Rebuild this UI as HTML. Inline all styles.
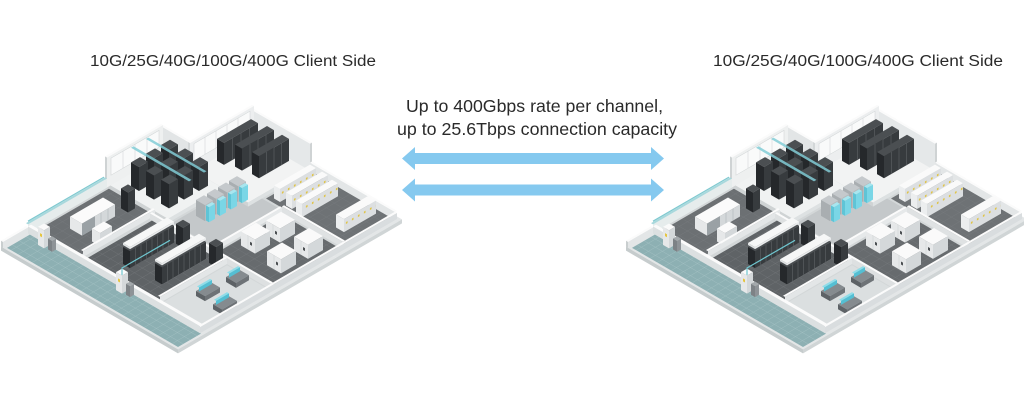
<!DOCTYPE html>
<html><head><meta charset="utf-8"><style>
html,body{margin:0;padding:0;background:#fff;}
svg{display:block;}
.wt{fill:#fbfbfb}.wl{fill:#e6e8e9}.wr{fill:#d4d8da}
.kt{fill:#4b4f52}.kl{fill:#25282b}.kr{fill:#373b3e}
.bt{fill:#fafafa}.bl{fill:#eceeef}.br{fill:#dcdfe1}
.ct{fill:#c5c9cc}.cl{fill:#a9aeb1}.cr{fill:#b7bcbf}
.yt{fill:#a8e6ef}.yl{fill:#5fc4d6}.yr{fill:#7ad6e6}
.dt{fill:#858b8f}.dl{fill:#5d6266}.dr{fill:#6e7377}
.mt{fill:#8fdde9}.mr{fill:#54bfd3}
.ln{stroke:#5a5e61;stroke-width:.7;fill:none}
.wn{fill:#f9fafa;stroke:#d2d6d7;stroke-width:.6}
.wln{stroke:#d2d6d7;stroke-width:.6;fill:none}
text{font-family:"Liberation Sans",sans-serif;fill:#2a2a2a;}
</style></head><body>
<svg xmlns="http://www.w3.org/2000/svg" width="1024" height="405" viewBox="0 0 1024 405">
<defs>
<pattern id="tg" width="7" height="7" patternUnits="userSpaceOnUse"><path d="M0 0H7M0 0V7" stroke="#a9c5c7" stroke-width="0.6" fill="none"/></pattern>
<pattern id="dg" width="8" height="8" patternUnits="userSpaceOnUse"><path d="M0 0H8M0 0V8" stroke="#7c8083" stroke-width="0.5" fill="none"/></pattern>
<pattern id="yd" width="6" height="13" patternUnits="userSpaceOnUse"><rect x="2" y="7" width="1.5" height="2" fill="#e0c13a"/></pattern>
<g id="dc" transform="translate(30,231)">
<!-- floors -->
<g transform="matrix(1,.58,1,-.58,0,0)">
<rect x="-1" y="-28" width="177" height="158" fill="#e3e6e7"/>
<rect x="26" y="130" width="150" height="66" fill="#e3e6e7"/>
<rect x="3" y="-26" width="171" height="23" fill="#8db0b3"/>
<rect x="3" y="-26" width="171" height="23" fill="url(#tg)"/>
<rect x="1" y="-3" width="172" height="133" fill="#d3d7d8"/>
<rect x="28" y="130" width="145" height="64" fill="#d3d7d8"/>
<rect x="3" y="4" width="43" height="72" fill="#6c7073"/>
<rect x="3" y="4" width="43" height="72" fill="url(#dg)"/>
<rect x="52" y="4" width="72" height="66" fill="#5f6366"/>
<rect x="52" y="4" width="72" height="66" fill="url(#dg)"/>
<rect x="128" y="3" width="43" height="66" fill="#dbdfe0"/>
<rect x="112" y="76" width="59" height="64" fill="#676b6e"/>
<rect x="112" y="76" width="59" height="64" fill="url(#dg)"/>
<rect x="90" y="146" width="81" height="46" fill="#6e7275"/>
<rect x="90" y="146" width="81" height="46" fill="url(#dg)"/>
<rect x="64" y="78" width="46" height="66" fill="#c4c8ca"/>
</g>
<!-- slab edges -->
<rect transform="matrix(1,.58,0,-1,-28,16.24)" x="-1" y="-4" width="177" height="4" fill="#c6cccd"/>
<rect transform="matrix(1,-.58,0,-1,176,102.08)" x="-28" y="-4" width="224" height="4" fill="#d0d5d6"/>
<!-- raised floors -->
<rect transform="matrix(1,.58,1,-.58,0,-4)" x="30" y="130" width="58" height="64" fill="#f2f3f3"/>
<rect transform="matrix(1,.58,0,-1,130,-75.4)" x="30" y="0" width="58" height="4" fill="#cfd3d4"/>
<rect transform="matrix(1,-.58,0,-1,88,51.04)" x="130" y="0" width="64" height="4" fill="#dde1e2"/>
<rect transform="matrix(1,.58,1,-.58,0,-4)" x="1" y="76" width="61" height="54" fill="#f0f2f2"/>
<rect transform="matrix(1,.58,0,-1,76,-44.08)" x="1" y="0" width="61" height="4" fill="#cfd3d4"/>
<rect transform="matrix(1,-.58,0,-1,62,35.96)" x="76" y="0" width="54" height="4" fill="#dde1e2"/>
<!-- back room right wall -->
<rect transform="matrix(1,.58,0,-1,192,-111.36)" x="28" y="0" width="60" height="27" fill="#e5e8e9"/>
<rect transform="matrix(1,-.58,0,-1,88,51.04)" x="192" y="0" width="2" height="27" fill="#cfd3d4"/>
<rect class="wt" transform="matrix(1,.58,1,-.58,0,-27)" x="28" y="192" width="60" height="2"/>
<!-- battery back wall -->
<rect transform="matrix(1,.58,0,-1,192,-111.36)" x="88" y="0" width="85" height="8" fill="#e3e6e7"/>
<rect class="wt" transform="matrix(1,.58,1,-.58,0,-8)" x="88" y="192" width="85" height="2"/>
<!-- back room left wall -->
<rect transform="matrix(1,.58,0,-1,130,-75.4)" x="28" y="0" width="2" height="30" fill="#d3d7d8"/>
<g transform="matrix(1,-.58,0,-1,30,17.4)">
<rect x="130" y="0" width="64" height="30" fill="#eceeef"/>
<rect class="wn" x="134" y="10" width="56" height="17"/>
<path class="wln" d="M145 10V27M156 10V27M167 10V27M178 10V27"/>
</g>
<rect class="wt" transform="matrix(1,.58,1,-.58,0,-30)" x="28" y="130" width="2" height="64"/>
<!-- left room right wall -->
<rect transform="matrix(1,.58,0,-1,130,-75.4)" x="1" y="0" width="27" height="30" fill="#e2e5e6"/>
<rect class="wt" transform="matrix(1,.58,1,-.58,0,-30)" x="1" y="130" width="27" height="2"/>
<!-- left room back wall -->
<g transform="matrix(1,-.58,0,-1,1,.58)">
<rect x="76" y="0" width="56" height="30" fill="#eef0f0"/>
<rect class="wn" x="80" y="10" width="48" height="17"/>
<path class="wln" d="M92 10V27M104 10V27M116 10V27"/>
</g>
<rect transform="matrix(1,.58,0,-1,76,-44.08)" x="-1" y="0" width="2" height="30" fill="#cfd3d4"/>
<rect class="wt" transform="matrix(1,.58,1,-.58,0,-30)" x="-1" y="76" width="2" height="56"/>
<!-- cooling back wall -->
<rect transform="matrix(1,-.58,0,-1,1,.58)" x="-3" y="0" width="79" height="9" fill="#e6ecec"/>
<rect transform="matrix(1,.58,1,-.58,0,-9)" x="-1" y="-3" width="2" height="79" fill="#a8d8dc"/>
<!-- end wall -->
<rect transform="matrix(1,-.58,0,-1,1,.58)" x="-28" y="0" width="25" height="6" fill="#e3e6e7"/>
<rect transform="matrix(1,.58,0,-1,-28,16.24)" x="-1" y="0" width="2" height="6" fill="#c9cecf"/>
<rect class="wt" transform="matrix(1,.58,1,-.58,0,-6)" x="-1" y="-28" width="2" height="25"/>
<!-- back room racks -->
<rect class="kt" transform="matrix(1,.58,1,-.58,0,-22)" x="33" y="154" width="7" height="34"/>
<rect class="kl" transform="matrix(1,.58,0,-1,154,-89.32)" x="33" y="0" width="7" height="22"/>
<g transform="matrix(1,-.58,0,-1,40,23.2)"><rect class="kr" x="154" y="0" width="34" height="22"/><path class="ln" d="M162.5 0V22M171 0V22M179.5 0V22"/></g>
<rect class="kt" transform="matrix(1,.58,1,-.58,0,-22)" x="47" y="158" width="7" height="32"/>
<rect class="kl" transform="matrix(1,.58,0,-1,158,-91.64)" x="47" y="0" width="7" height="22"/>
<g transform="matrix(1,-.58,0,-1,54,31.32)"><rect class="kr" x="158" y="0" width="32" height="22"/><path class="ln" d="M166 0V22M174 0V22M182 0V22"/></g>
<rect class="kt" transform="matrix(1,.58,1,-.58,0,-22)" x="62" y="160" width="7" height="30"/>
<rect class="kl" transform="matrix(1,.58,0,-1,160,-92.8)" x="62" y="0" width="7" height="22"/>
<g transform="matrix(1,-.58,0,-1,69,40.02)"><rect class="kr" x="160" y="0" width="30" height="22"/><path class="ln" d="M167.5 0V22M175 0V22M182.5 0V22"/></g>
<!-- battery racks -->
<rect class="bt" transform="matrix(1,.58,1,-.58,0,-13)" x="94" y="150" width="6" height="36"/>
<rect class="bl" transform="matrix(1,.58,0,-1,150,-87)" x="94" y="0" width="6" height="13"/>
<g transform="matrix(1,-.58,0,-1,100,58)"><rect class="br" x="150" y="0" width="36" height="13"/><rect x="150" y="0" width="36" height="13" fill="url(#yd)"/></g>
<rect class="bt" transform="matrix(1,.58,1,-.58,0,-13)" x="106" y="150" width="6" height="36"/>
<rect class="bl" transform="matrix(1,.58,0,-1,150,-87)" x="106" y="0" width="6" height="13"/>
<g transform="matrix(1,-.58,0,-1,112,64.96)"><rect class="br" x="150" y="0" width="36" height="13"/><rect x="150" y="0" width="36" height="13" fill="url(#yd)"/></g>
<rect class="bt" transform="matrix(1,.58,1,-.58,0,-13)" x="118" y="148" width="6" height="36"/>
<rect class="bl" transform="matrix(1,.58,0,-1,148,-85.84)" x="118" y="0" width="6" height="13"/>
<g transform="matrix(1,-.58,0,-1,124,71.92)"><rect class="br" x="148" y="0" width="36" height="13"/><rect x="148" y="0" width="36" height="13" fill="url(#yd)"/></g>
<rect class="bt" transform="matrix(1,.58,1,-.58,0,-13)" x="150" y="156" width="8" height="32"/>
<rect class="bl" transform="matrix(1,.58,0,-1,156,-90.48)" x="150" y="0" width="8" height="13"/>
<g transform="matrix(1,-.58,0,-1,158,91.64)"><rect class="br" x="156" y="0" width="32" height="13"/><rect x="156" y="0" width="32" height="13" fill="url(#yd)"/></g>
<!-- left room racks -->
<rect class="kt" transform="matrix(1,.58,1,-.58,0,-24)" x="12" y="119" width="8" height="9"/>
<rect class="kl" transform="matrix(1,.58,0,-1,119,-69.02)" x="12" y="0" width="8" height="24"/>
<rect class="kr" transform="matrix(1,-.58,0,-1,20,11.6)" x="119" y="0" width="9" height="24"/>
<rect class="kt" transform="matrix(1,.58,1,-.58,0,-24)" x="12" y="104" width="8" height="9"/>
<rect class="kl" transform="matrix(1,.58,0,-1,104,-60.32)" x="12" y="0" width="8" height="24"/>
<rect class="kr" transform="matrix(1,-.58,0,-1,20,11.6)" x="104" y="0" width="9" height="24"/>
<rect class="kt" transform="matrix(1,.58,1,-.58,0,-24)" x="27" y="119" width="8" height="9"/>
<rect class="kl" transform="matrix(1,.58,0,-1,119,-69.02)" x="27" y="0" width="8" height="24"/>
<rect class="kr" transform="matrix(1,-.58,0,-1,35,20.3)" x="119" y="0" width="9" height="24"/>
<rect class="kt" transform="matrix(1,.58,1,-.58,0,-24)" x="12" y="89" width="8" height="9"/>
<rect class="kl" transform="matrix(1,.58,0,-1,89,-51.62)" x="12" y="0" width="8" height="24"/>
<rect class="kr" transform="matrix(1,-.58,0,-1,20,11.6)" x="89" y="0" width="9" height="24"/>
<rect class="kt" transform="matrix(1,.58,1,-.58,0,-24)" x="27" y="104" width="8" height="9"/>
<rect class="kl" transform="matrix(1,.58,0,-1,104,-60.32)" x="27" y="0" width="8" height="24"/>
<rect class="kr" transform="matrix(1,-.58,0,-1,35,20.3)" x="104" y="0" width="9" height="24"/>
<rect class="kt" transform="matrix(1,.58,1,-.58,0,-24)" x="42" y="119" width="8" height="9"/>
<rect class="kl" transform="matrix(1,.58,0,-1,119,-69.02)" x="42" y="0" width="8" height="24"/>
<rect class="kr" transform="matrix(1,-.58,0,-1,50,29)" x="119" y="0" width="9" height="24"/>
<rect class="kt" transform="matrix(1,.58,1,-.58,0,-24)" x="27" y="89" width="8" height="9"/>
<rect class="kl" transform="matrix(1,.58,0,-1,89,-51.62)" x="27" y="0" width="8" height="24"/>
<rect class="kr" transform="matrix(1,-.58,0,-1,35,20.3)" x="89" y="0" width="9" height="24"/>
<rect class="kt" transform="matrix(1,.58,1,-.58,0,-24)" x="42" y="104" width="8" height="9"/>
<rect class="kl" transform="matrix(1,.58,0,-1,104,-60.32)" x="42" y="0" width="8" height="24"/>
<rect class="kr" transform="matrix(1,-.58,0,-1,50,29)" x="104" y="0" width="9" height="24"/>
<rect class="kt" transform="matrix(1,.58,1,-.58,0,-24)" x="42" y="89" width="8" height="9"/>
<rect class="kl" transform="matrix(1,.58,0,-1,89,-51.62)" x="42" y="0" width="8" height="24"/>
<rect class="kr" transform="matrix(1,-.58,0,-1,50,29)" x="89" y="0" width="9" height="24"/>
<rect transform="matrix(1,.58,1,-.58,0,-27)" x="2" y="99" width="58" height="2.5" fill="#83cdd6" opacity=".85"/>
<rect transform="matrix(1,.58,1,-.58,0,-27)" x="2" y="114" width="58" height="2.5" fill="#83cdd6" opacity=".85"/>
<!-- CRAC units -->
<rect class="ct" transform="matrix(1,.58,1,-.58,0,-16)" x="70" y="129" width="9" height="8"/>
<rect class="cl" transform="matrix(1,.58,0,-1,129,-74.82)" x="70" y="0" width="9" height="16"/>
<rect class="cr" transform="matrix(1,-.58,0,-1,79,45.82)" x="129" y="0" width="8" height="16"/>
<rect class="yt" transform="matrix(1,.58,1,-.58,0,-15)" x="79" y="130" width="3" height="6"/>
<rect class="yl" transform="matrix(1,.58,0,-1,130,-75.4)" x="79" y="0" width="3" height="15"/>
<rect class="yr" transform="matrix(1,-.58,0,-1,82,47.56)" x="130" y="0" width="6" height="15"/>
<rect class="ct" transform="matrix(1,.58,1,-.58,0,-16)" x="70" y="118" width="9" height="8"/>
<rect class="cl" transform="matrix(1,.58,0,-1,118,-68.44)" x="70" y="0" width="9" height="16"/>
<rect class="cr" transform="matrix(1,-.58,0,-1,79,45.82)" x="118" y="0" width="8" height="16"/>
<rect class="yt" transform="matrix(1,.58,1,-.58,0,-15)" x="79" y="119" width="3" height="6"/>
<rect class="yl" transform="matrix(1,.58,0,-1,119,-69.02)" x="79" y="0" width="3" height="15"/>
<rect class="yr" transform="matrix(1,-.58,0,-1,82,47.56)" x="119" y="0" width="6" height="15"/>
<rect class="ct" transform="matrix(1,.58,1,-.58,0,-16)" x="70" y="107" width="9" height="8"/>
<rect class="cl" transform="matrix(1,.58,0,-1,107,-62.06)" x="70" y="0" width="9" height="16"/>
<rect class="cr" transform="matrix(1,-.58,0,-1,79,45.82)" x="107" y="0" width="8" height="16"/>
<rect class="yt" transform="matrix(1,.58,1,-.58,0,-15)" x="79" y="108" width="3" height="6"/>
<rect class="yl" transform="matrix(1,.58,0,-1,108,-62.64)" x="79" y="0" width="3" height="15"/>
<rect class="yr" transform="matrix(1,-.58,0,-1,82,47.56)" x="108" y="0" width="6" height="15"/>
<rect class="ct" transform="matrix(1,.58,1,-.58,0,-16)" x="70" y="96" width="9" height="8"/>
<rect class="cl" transform="matrix(1,.58,0,-1,96,-55.68)" x="70" y="0" width="9" height="16"/>
<rect class="cr" transform="matrix(1,-.58,0,-1,79,45.82)" x="96" y="0" width="8" height="16"/>
<rect class="yt" transform="matrix(1,.58,1,-.58,0,-15)" x="79" y="97" width="3" height="6"/>
<rect class="yl" transform="matrix(1,.58,0,-1,97,-56.26)" x="79" y="0" width="3" height="15"/>
<rect class="yr" transform="matrix(1,-.58,0,-1,82,47.56)" x="97" y="0" width="6" height="15"/>
<!-- UPS/battery wall, CRAC ledge -->
<rect transform="matrix(1,.58,0,-1,142,-82.36)" x="110" y="0" width="61" height="6" fill="#dfe2e3"/>
<rect class="wt" transform="matrix(1,.58,1,-.58,0,-6)" x="110" y="142" width="61" height="2"/>
<rect transform="matrix(1,-.58,0,-1,110,63.8)" x="76" y="0" width="66" height="5" fill="#e6e9ea"/>
<rect class="wt" transform="matrix(1,.58,1,-.58,0,-5)" x="108" y="76" width="2" height="66"/>
<!-- cooling room -->
<rect class="kt" transform="matrix(1,.58,1,-.58,0,-20)" x="26" y="65" width="7" height="7"/>
<rect class="kl" transform="matrix(1,.58,0,-1,65,-37.7)" x="26" y="0" width="7" height="20"/>
<rect class="kr" transform="matrix(1,-.58,0,-1,33,19.14)" x="65" y="0" width="7" height="20"/>
<rect class="wt" transform="matrix(1,.58,1,-.58,0,-12)" x="18" y="22" width="12" height="33"/>
<rect class="wl" transform="matrix(1,.58,0,-1,22,-12.76)" x="18" y="0" width="12" height="12"/>
<g transform="matrix(1,-.58,0,-1,30,17.4)"><rect class="wr" x="22" y="0" width="33" height="12"/><rect x="22" y="0" width="13" height="12" fill="#9aa1a5"/><path d="M41 0V12M48 0V12" stroke="#b5babd" stroke-width=".7"/></g>
<rect class="wt" transform="matrix(1,.58,1,-.58,0,-13)" x="40" y="22" width="8" height="12"/>
<rect class="wl" transform="matrix(1,.58,0,-1,22,-12.76)" x="40" y="0" width="8" height="13"/>
<rect class="wr" transform="matrix(1,-.58,0,-1,48,27.84)" x="22" y="0" width="12" height="13"/>
<!-- cooling/rack wall -->
<rect transform="matrix(1,-.58,0,-1,49,28.42)" x="4" y="0" width="72" height="6" fill="#e3e6e7"/>
<rect class="wt" transform="matrix(1,.58,1,-.58,0,-6)" x="47" y="4" width="2" height="72"/>
<!-- UPS cabinets -->
<rect class="bt" transform="matrix(1,.58,1,-.58,0,-14)" x="121" y="115" width="14" height="15"/>
<g transform="matrix(1,.58,0,-1,115,-66.7)"><rect class="wl" x="121" y="0" width="14" height="14"/><path d="M128 0V14" stroke="#cfd3d5" stroke-width=".6"/><rect x="130" y="6" width="2" height="3" fill="#4b4f52"/></g>
<rect class="wr" transform="matrix(1,-.58,0,-1,135,78.3)" x="115" y="0" width="15" height="14"/>
<rect class="bt" transform="matrix(1,.58,1,-.58,0,-14)" x="118" y="93" width="14" height="15"/>
<g transform="matrix(1,.58,0,-1,93,-53.94)"><rect class="wl" x="118" y="0" width="14" height="14"/><path d="M125 0V14" stroke="#cfd3d5" stroke-width=".6"/><rect x="127" y="6" width="2" height="3" fill="#4b4f52"/></g>
<rect class="wr" transform="matrix(1,-.58,0,-1,132,76.56)" x="93" y="0" width="15" height="14"/>
<rect class="bt" transform="matrix(1,.58,1,-.58,0,-14)" x="149" y="115" width="14" height="15"/>
<g transform="matrix(1,.58,0,-1,115,-66.7)"><rect class="wl" x="149" y="0" width="14" height="14"/><path d="M156 0V14" stroke="#cfd3d5" stroke-width=".6"/><rect x="158" y="6" width="2" height="3" fill="#4b4f52"/></g>
<rect class="wr" transform="matrix(1,-.58,0,-1,163,94.54)" x="115" y="0" width="15" height="14"/>
<rect class="bt" transform="matrix(1,.58,1,-.58,0,-14)" x="148" y="89" width="14" height="15"/>
<g transform="matrix(1,.58,0,-1,89,-51.62)"><rect class="wl" x="148" y="0" width="14" height="14"/><path d="M155 0V14" stroke="#cfd3d5" stroke-width=".6"/><rect x="157" y="6" width="2" height="3" fill="#4b4f52"/></g>
<rect class="wr" transform="matrix(1,-.58,0,-1,162,93.96)" x="89" y="0" width="15" height="14"/>
<!-- W1 -->
<rect transform="matrix(1,.58,0,-1,70,-40.6)" x="50" y="0" width="121" height="6" fill="#dde0e1"/>
<rect class="wt" transform="matrix(1,.58,1,-.58,0,-6)" x="50" y="70" width="121" height="2"/>
<!-- rack room -->
<rect class="kt" transform="matrix(1,.58,1,-.58,0,-17)" x="75" y="18" width="7" height="44"/>
<rect class="kl" transform="matrix(1,.58,0,-1,18,-10.44)" x="75" y="0" width="7" height="17"/>
<g transform="matrix(1,-.58,0,-1,82,47.56)"><rect class="kr" x="18" y="0" width="44" height="17"/><path class="ln" d="M23.5 0V17M29 0V17M34.5 0V17M40 0V17M45.5 0V17M51 0V17M56.5 0V17"/><rect x="18" y="19" width="44" height="2" fill="#e9ebec"/></g>
<rect transform="matrix(1,.58,0,-1,18,-10.44)" x="75" y="19" width="7" height="2" fill="#dfe2e3"/>
<rect transform="matrix(1,.58,1,-.58,0,-21)" x="75" y="18" width="7" height="44" fill="#f6f7f7"/>
<rect class="kt" transform="matrix(1,.58,1,-.58,0,-20)" x="84" y="62" width="7" height="7"/>
<rect class="kl" transform="matrix(1,.58,0,-1,62,-35.96)" x="84" y="0" width="7" height="20"/>
<rect class="kr" transform="matrix(1,-.58,0,-1,91,52.78)" x="62" y="0" width="7" height="20"/>
<rect class="kt" transform="matrix(1,.58,1,-.58,0,-17)" x="105" y="20" width="7" height="44"/>
<rect class="kl" transform="matrix(1,.58,0,-1,20,-11.6)" x="105" y="0" width="7" height="17"/>
<g transform="matrix(1,-.58,0,-1,112,64.96)"><rect class="kr" x="20" y="0" width="44" height="17"/><path class="ln" d="M25.5 0V17M31 0V17M36.5 0V17M42 0V17M47.5 0V17M53 0V17M58.5 0V17"/><rect x="20" y="19" width="44" height="2" fill="#e9ebec"/></g>
<rect transform="matrix(1,.58,0,-1,20,-11.6)" x="105" y="19" width="7" height="2" fill="#dfe2e3"/>
<rect transform="matrix(1,.58,1,-.58,0,-21)" x="105" y="20" width="7" height="44" fill="#f6f7f7"/>
<rect class="kt" transform="matrix(1,.58,1,-.58,0,-20)" x="117" y="62" width="7" height="7"/>
<rect class="kl" transform="matrix(1,.58,0,-1,62,-35.96)" x="117" y="0" width="7" height="20"/>
<rect class="kr" transform="matrix(1,-.58,0,-1,124,71.92)" x="62" y="0" width="7" height="20"/>
<!-- rack/control wall -->
<rect transform="matrix(1,-.58,0,-1,127,73.66)" x="3" y="0" width="67" height="6" fill="#e3e6e7"/>
<rect class="wt" transform="matrix(1,.58,1,-.58,0,-6)" x="125" y="3" width="2" height="67"/>
<!-- desks -->
<rect class="dt" transform="matrix(1,.58,1,-.58,0,-5)" x="142" y="54" width="10" height="13"/>
<rect class="dl" transform="matrix(1,.58,0,-1,54,-31.32)" x="142" y="0" width="10" height="5"/>
<rect class="dr" transform="matrix(1,-.58,0,-1,152,88.16)" x="54" y="0" width="13" height="5"/>
<rect class="mt" transform="matrix(1,.58,1,-.58,0,-9)" x="142" y="55" width="2" height="11"/>
<rect class="mr" transform="matrix(1,-.58,0,-1,144,83.52)" x="55" y="5" width="11" height="4"/>
<rect class="dt" transform="matrix(1,.58,1,-.58,0,-5)" x="139" y="27" width="9" height="15"/>
<rect class="dl" transform="matrix(1,.58,0,-1,27,-15.66)" x="139" y="0" width="9" height="5"/>
<rect class="dr" transform="matrix(1,-.58,0,-1,148,85.84)" x="27" y="0" width="15" height="5"/>
<rect class="mt" transform="matrix(1,.58,1,-.58,0,-9)" x="139" y="28" width="2" height="13"/>
<rect class="mr" transform="matrix(1,-.58,0,-1,141,81.78)" x="28" y="5" width="13" height="4"/>
<rect class="dt" transform="matrix(1,.58,1,-.58,0,-5)" x="159" y="24" width="9" height="15"/>
<rect class="dl" transform="matrix(1,.58,0,-1,24,-13.92)" x="159" y="0" width="9" height="5"/>
<rect class="dr" transform="matrix(1,-.58,0,-1,168,97.44)" x="24" y="0" width="15" height="5"/>
<rect class="mt" transform="matrix(1,.58,1,-.58,0,-9)" x="159" y="25" width="2" height="13"/>
<rect class="mr" transform="matrix(1,-.58,0,-1,161,93.38)" x="25" y="5" width="13" height="4"/>
<!-- outer right wall -->
<rect transform="matrix(1,-.58,0,-1,173,100.34)" x="-3" y="0" width="197" height="6" fill="#d9dddf"/>
<rect class="wt" transform="matrix(1,.58,1,-.58,0,-6)" x="171" y="-3" width="2" height="197"/>
<!-- teal boundary wall -->
<rect transform="matrix(1,.58,0,-1,-3,1.74)" x="1" y="0" width="172" height="7" fill="#dce0e1"/>
<rect class="wt" transform="matrix(1,.58,1,-.58,0,-7)" x="1" y="-3" width="172" height="3"/>
<!-- white boxes & meters -->
<rect class="bt" transform="matrix(1,.58,1,-.58,0,-18)" x="16" y="-8" width="6" height="6"/>
<g transform="matrix(1,.58,0,-1,-8,4.64)"><rect class="wl" x="16" y="0" width="6" height="18"/><rect x="18" y="10" width="2" height="3" fill="#e5c540"/></g>
<rect class="wr" transform="matrix(1,-.58,0,-1,22,12.76)" x="-8" y="0" width="6" height="18"/>
<rect transform="matrix(1,.58,1,-.58,0,-11)" x="25" y="-7" width="4" height="4" fill="#a3a8ab"/>
<rect transform="matrix(1,.58,0,-1,-7,4.06)" x="25" y="0" width="4" height="11" fill="#7d8286"/>
<rect transform="matrix(1,-.58,0,-1,29,16.82)" x="-7" y="0" width="4" height="11" fill="#8e9397"/>
<rect class="bt" transform="matrix(1,.58,1,-.58,0,-18)" x="94" y="-8" width="6" height="6"/>
<g transform="matrix(1,.58,0,-1,-8,4.64)"><rect class="wl" x="94" y="0" width="6" height="18"/><rect x="96" y="10" width="2" height="3" fill="#e5c540"/></g>
<rect class="wr" transform="matrix(1,-.58,0,-1,100,58)" x="-8" y="0" width="6" height="18"/>
<rect transform="matrix(1,.58,1,-.58,0,-11)" x="103" y="-7" width="4" height="4" fill="#a3a8ab"/>
<rect transform="matrix(1,.58,0,-1,-7,4.06)" x="103" y="0" width="4" height="11" fill="#7d8286"/>
<rect transform="matrix(1,-.58,0,-1,107,62.06)" x="-7" y="0" width="4" height="11" fill="#8e9397"/>
<!-- pipes -->
<path d="M-2 -9.8L74 -53.9" stroke="#7fc9d0" stroke-width="1.2" fill="none"/>
<path d="M92 44V37L140 9.3" stroke="#6fc6cf" stroke-width="1.2" fill="none"/>
</g>
</defs>
<rect width="1024" height="405" fill="#ffffff"/>
<use href="#dc"/>
<use href="#dc" x="625"/>
<text x="90" y="66" font-size="15.5" textLength="286" lengthAdjust="spacingAndGlyphs">10G/25G/40G/100G/400G Client Side</text>
<text x="713" y="66" font-size="15.5" textLength="290" lengthAdjust="spacingAndGlyphs">10G/25G/40G/100G/400G Client Side</text>
<text x="534.5" y="112" font-size="17.7" text-anchor="middle" textLength="257" lengthAdjust="spacingAndGlyphs">Up to 400Gbps rate per channel,</text>
<text x="537" y="135" font-size="17.7" text-anchor="middle" textLength="280" lengthAdjust="spacingAndGlyphs">up to 25.6Tbps connection capacity</text>
<polygon points="402,158.5 415,147 415,153 651,153 651,147 664,158.5 651,170 651,164 415,164 415,170" fill="#85c9ef"/>
<polygon points="402,190 415,178.5 415,184.5 651,184.5 651,178.5 664,190 651,201.5 651,195.5 415,195.5 415,201.5" fill="#85c9ef"/>
</svg>
</body></html>
